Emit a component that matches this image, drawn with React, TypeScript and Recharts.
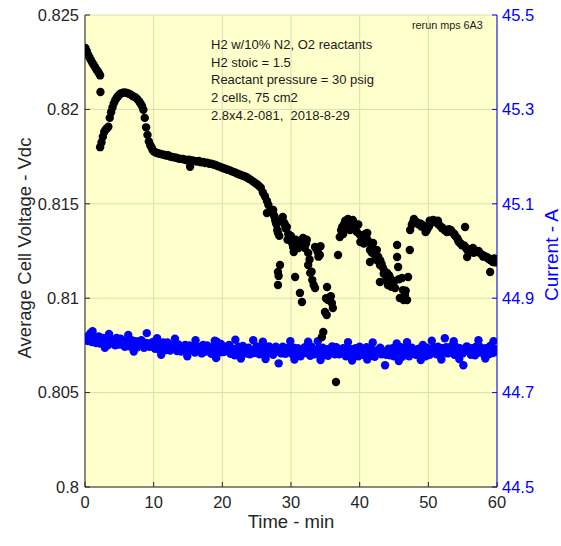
import React from 'react';
import { ScatterChart, Scatter, XAxis, YAxis, CartesianGrid } from 'recharts';

// [time (min), average cell voltage (Vdc)]
const voltage: [number, number][] = [
  [0.05, 0.82325], [0.25, 0.8231], [0.45, 0.8229], [0.65, 0.82275], [0.85, 0.82262], [1.05, 0.82248],
  [1.25, 0.82236], [1.45, 0.82225], [1.65, 0.82212], [1.85, 0.82202], [2.05, 0.8219], [2.2, 0.8218],
  [2.25, 0.82092],
  [2.2, 0.818], [2.4, 0.81825], [2.6, 0.81855], [2.8, 0.8188], [3.0, 0.81893], [3.2, 0.819], [3.4, 0.81908],
  [3.6, 0.81955], [3.8, 0.81985], [4.0, 0.8201], [4.2, 0.82032], [4.4, 0.82048], [4.6, 0.8206], [4.8, 0.8207],
  [5.0, 0.82078], [5.2, 0.82084], [5.5, 0.82088], [5.8, 0.8209], [6.1, 0.82087], [6.4, 0.82083], [6.7, 0.82078],
  [7.0, 0.8207], [7.3, 0.82065], [7.6, 0.82055], [7.9, 0.82042], [8.1, 0.8203], [8.3, 0.82018], [8.5, 0.81998],
  [8.7, 0.81955], [8.9, 0.81905], [9.1, 0.81865], [9.3, 0.8183], [9.5, 0.8181], [9.7, 0.81798], [9.85, 0.81785],
  [10.0, 0.81778], [10.3, 0.81772], [10.6, 0.81768], [10.9, 0.81765], [11.2, 0.81762], [11.5, 0.8176],
  [11.8, 0.81756], [12.1, 0.81757], [12.4, 0.8175], [12.7, 0.81748], [13.0, 0.81746], [13.3, 0.81744],
  [13.6, 0.8174], [13.9, 0.81738], [14.2, 0.81737], [14.5, 0.81735], [14.8, 0.81731], [15.1, 0.81733],
  [15.3, 0.81696], [15.4, 0.81728], [15.7, 0.8173], [16.0, 0.81726], [16.3, 0.81724], [16.6, 0.81727],
  [16.9, 0.8172], [17.2, 0.81722], [17.5, 0.81716], [17.8, 0.81718], [18.1, 0.81712], [18.4, 0.81713],
  [18.7, 0.81708], [19.0, 0.81706], [19.3, 0.817], [19.6, 0.81697], [19.9, 0.81692], [20.2, 0.81688],
  [20.5, 0.81684], [20.8, 0.8168], [21.1, 0.81677], [21.4, 0.81672], [21.7, 0.81668], [22.0, 0.81663],
  [22.3, 0.81658], [22.6, 0.81654], [22.9, 0.8165], [23.2, 0.81646], [23.5, 0.81642], [23.8, 0.81634],
  [24.1, 0.81628], [24.4, 0.8162], [24.7, 0.81612], [25.0, 0.81605], [25.3, 0.81596], [25.6, 0.81585],
  [25.9, 0.8156], [26.2, 0.8154], [26.5, 0.81515], [26.5, 0.81451], [26.7, 0.81495], [27.0, 0.8147],
  [27.2, 0.81458], [27.4, 0.81467], [27.5, 0.8144], [27.6, 0.81432], [27.7, 0.81414], [27.8, 0.814],
  [27.9, 0.8139], [28.0, 0.8136], [28.1, 0.81345], [28.1, 0.81139], [28.1, 0.8107], [28.2, 0.81118],
  [28.3, 0.8133], [28.4, 0.81176], [28.6, 0.8141], [28.8, 0.8143], [29.0, 0.814], [29.1, 0.8139],
  [29.2, 0.8137], [29.4, 0.81377], [29.5, 0.8131], [29.6, 0.8134], [29.85, 0.81308], [30.0, 0.8133],
  [30.1, 0.81295], [30.3, 0.81271], [30.4, 0.81245], [30.6, 0.81112], [30.7, 0.8131], [30.8, 0.8129],
  [31.0, 0.81265], [31.1, 0.813], [31.3, 0.81028], [31.5, 0.81295], [31.6, 0.8098], [31.75, 0.81319],
  [32.0, 0.81266], [32.2, 0.8129], [32.3, 0.8131], [32.5, 0.81176], [32.5, 0.8124], [32.7, 0.81205],
  [32.8, 0.81134], [33.0, 0.8114], [33.1, 0.81096], [33.3, 0.8107], [33.5, 0.81271], [33.5, 0.81054],
  [33.7, 0.8126], [33.9, 0.81245], [34.0, 0.8122], [34.2, 0.81229], [34.3, 0.81275], [34.5, 0.80794],
  [34.7, 0.80821], [34.95, 0.80927], [35.1, 0.81], [35.2, 0.80911], [35.25, 0.81059], [35.4, 0.8099],
  [35.6, 0.81], [35.8, 0.8101], [35.95, 0.80975], [36.1, 0.80948], [36.55, 0.80556], [36.85, 0.81229],
  [37.1, 0.81324], [37.3, 0.8136], [37.45, 0.81377], [37.6, 0.8134], [37.7, 0.8139], [37.9, 0.8141],
  [38.0, 0.8138], [38.15, 0.81398], [38.3, 0.8142], [38.4, 0.8137], [38.6, 0.81361], [38.8, 0.814],
  [39.0, 0.81414], [39.1, 0.8137], [39.2, 0.81385], [39.4, 0.8136], [39.5, 0.8139], [39.6, 0.8135],
  [39.8, 0.8139], [40.05, 0.81335], [40.1, 0.81298], [40.3, 0.8133], [40.5, 0.8131], [40.6, 0.8129],
  [40.8, 0.8134], [41.0, 0.8132], [41.1, 0.81345], [41.3, 0.813], [41.5, 0.81255], [41.5, 0.81192],
  [41.7, 0.8128], [41.8, 0.8124], [41.95, 0.81292], [42.2, 0.8125], [42.3, 0.8122], [42.5, 0.81255],
  [42.5, 0.81202], [42.7, 0.8122], [42.95, 0.81176], [42.95, 0.81086], [43.0, 0.812], [43.2, 0.8118],
  [43.4, 0.8116], [43.5, 0.8113], [43.7, 0.8114], [43.9, 0.811], [44.0, 0.81134], [44.1, 0.8107],
  [44.3, 0.8112], [44.4, 0.81107], [44.6, 0.8106], [44.7, 0.81096], [44.9, 0.8108], [45.0, 0.8109],
  [45.15, 0.81054], [45.45, 0.81282], [45.45, 0.81218], [45.6, 0.81165], [45.7, 0.811], [45.85, 0.81001],
  [46.15, 0.81107], [46.3, 0.81043], [46.4, 0.8099], [46.6, 0.8102], [46.7, 0.8104], [46.9, 0.8099],
  [47.05, 0.81112], [47.3, 0.81255], [47.35, 0.81361],
  [47.6, 0.8139], [47.8, 0.81403], [47.9, 0.8142], [48.0, 0.8141], [48.2, 0.814], [48.35, 0.81403],
  [48.6, 0.8139], [48.9, 0.81395], [49.0, 0.8138], [49.2, 0.81387], [49.5, 0.8137], [49.6, 0.8135],
  [49.8, 0.81361], [50.1, 0.8138], [50.2, 0.8141], [50.4, 0.814], [50.7, 0.81414], [50.9, 0.8141],
  [51.0, 0.81405], [51.25, 0.81398], [51.4, 0.8141], [51.5, 0.8139], [51.8, 0.8138], [52.0, 0.8137],
  [52.1, 0.81372], [52.4, 0.8136], [52.6, 0.8136], [52.7, 0.8135], [53.0, 0.81365], [53.15, 0.81361],
  [53.3, 0.8136], [53.4, 0.8135], [53.6, 0.81345], [53.8, 0.8134], [53.9, 0.8133], [54.2, 0.81319],
  [54.3, 0.8131], [54.4, 0.813], [54.6, 0.81292], [54.7, 0.8129], [54.9, 0.8128], [55.2, 0.8128],
  [55.35, 0.81377], [55.4, 0.8127], [55.65, 0.81255], [55.65, 0.81218], [55.9, 0.8125], [56.0, 0.8126],
  [56.2, 0.8126], [56.5, 0.81266], [56.6, 0.8124], [56.8, 0.8125], [57.1, 0.81245], [57.3, 0.8125],
  [57.5, 0.8124], [57.8, 0.8123], [58.0, 0.8122], [58.1, 0.81225], [58.5, 0.81218], [58.7, 0.8121],
  [58.8, 0.8121], [59.0, 0.81202], [59.0, 0.81139], [59.2, 0.812], [59.3, 0.812], [59.4, 0.81192],
  [59.6, 0.8121], [59.7, 0.8119], [59.9, 0.81192],
];

// [time (min), current (A)]
const current: [number, number][] = [
  [0.0, 44.818], [0.2, 44.814], [0.4, 44.809], [0.6, 44.821], [0.8, 44.826], [1.0, 44.807], [1.2, 44.812],
  [1.4, 44.817], [1.6, 44.805], [1.8, 44.811], [2.0, 44.819], [2.2, 44.804], [2.4, 44.81], [2.6, 44.816],
  [2.8, 44.803], [3.0, 44.809], [3.2, 44.815], [3.4, 44.801], [3.6, 44.808], [3.8, 44.813], [4.0, 44.812],
  [4.2, 44.806], [4.4, 44.8], [4.6, 44.816], [4.8, 44.809], [5.0, 44.802], [5.2, 44.814], [5.4, 44.81],
  [5.6, 44.801], [5.8, 44.797], [6.0, 44.807], [6.2, 44.812], [6.4, 44.798], [6.6, 44.804], [6.8, 44.811],
  [7.0, 44.799], [7.2, 44.803], [7.4, 44.809], [7.6, 44.796], [7.8, 44.802], [8.0, 44.808], [8.2, 44.811],
  [8.4, 44.8], [8.6, 44.795], [8.8, 44.805], [9.0, 44.826], [9.2, 44.804], [9.4, 44.797], [9.6, 44.8],
  [9.8, 44.806], [10.0, 44.808], [10.2, 44.793], [10.4, 44.797], [10.6, 44.802], [10.8, 44.791],
  [11.0, 44.798], [11.2, 44.803], [11.4, 44.806], [11.6, 44.796], [11.8, 44.79], [12.0, 44.806],
  [12.2, 44.799], [12.4, 44.789], [12.6, 44.795], [12.8, 44.8], [13.0, 44.803], [13.2, 44.793],
  [13.4, 44.788], [13.6, 44.802], [13.8, 44.797], [14.0, 44.787], [14.2, 44.792], [14.4, 44.796],
  [14.6, 44.801], [14.8, 44.79], [15.0, 44.786], [15.2, 44.8], [15.4, 44.795], [15.6, 44.791],
  [15.8, 44.799], [16.0, 44.785], [16.2, 44.789], [16.4, 44.797], [16.6, 44.796], [16.8, 44.792],
  [17.0, 44.783], [17.2, 44.801], [17.4, 44.793], [17.6, 44.787], [17.8, 44.8], [18.0, 44.795],
  [18.2, 44.788], [18.4, 44.782], [18.6, 44.794], [18.8, 44.799], [19.0, 44.79], [19.2, 44.808],
  [19.4, 44.796], [19.6, 44.785], [19.8, 44.803], [20.0, 44.796], [20.2, 44.786], [20.4, 44.79],
  [20.6, 44.794], [20.8, 44.799], [21.0, 44.801], [21.2, 44.782], [21.4, 44.789], [21.6, 44.793],
  [21.8, 44.779], [22.0, 44.788], [22.2, 44.794], [22.4, 44.797], [22.6, 44.79], [22.8, 44.785],
  [23.0, 44.799], [23.2, 44.794], [23.4, 44.783], [23.6, 44.789], [23.8, 44.795], [24.0, 44.781],
  [24.2, 44.79], [24.5, 44.811], [24.6, 44.784], [24.8, 44.792], [25.0, 44.798], [25.2, 44.787],
  [25.4, 44.781], [25.6, 44.796], [25.8, 44.79], [26.0, 44.783], [26.2, 44.795], [26.4, 44.791],
  [26.6, 44.784], [26.8, 44.798], [27.0, 44.792], [27.2, 44.786], [27.4, 44.78], [27.6, 44.793],
  [27.8, 44.797], [28.0, 44.787], [28.2, 44.762], [28.4, 44.789], [28.6, 44.783], [28.8, 44.797],
  [29.0, 44.794], [29.2, 44.782], [29.4, 44.786], [29.6, 44.79], [29.8, 44.797], [30.0, 44.786],
  [30.2, 44.781], [30.4, 44.795], [30.6, 44.789], [30.8, 44.78], [31.0, 44.794], [31.2, 44.791],
  [31.4, 44.777], [31.6, 44.787], [31.8, 44.789], [32.0, 44.796], [32.2, 44.784], [32.5, 44.808],
  [32.6, 44.793], [32.8, 44.778], [33.0, 44.797], [33.2, 44.79], [33.4, 44.781], [33.6, 44.784],
  [33.8, 44.789], [34.0, 44.793], [34.2, 44.779], [34.4, 44.786], [34.6, 44.795], [34.8, 44.779],
  [35.0, 44.785], [35.2, 44.792], [35.4, 44.778], [35.6, 44.788], [35.8, 44.793], [36.0, 44.798],
  [36.2, 44.786], [36.4, 44.781], [36.6, 44.796], [36.8, 44.79], [37.0, 44.781], [37.2, 44.785],
  [37.4, 44.79], [37.6, 44.794], [37.8, 44.786], [38.0, 44.777], [38.2, 44.795], [38.4, 44.788],
  [38.6, 44.78], [38.8, 44.792], [39.0, 44.789], [39.2, 44.782], [39.4, 44.794], [39.6, 44.79],
  [39.8, 44.777], [40.0, 44.797], [40.2, 44.79], [40.4, 44.78], [40.6, 44.784], [40.8, 44.787],
  [41.0, 44.796], [41.2, 44.793], [41.4, 44.785], [41.6, 44.778], [41.8, 44.791], [42.0, 44.789],
  [42.2, 44.776], [42.4, 44.784], [42.6, 44.789], [42.8, 44.792], [43.0, 44.795], [43.2, 44.781],
  [43.4, 44.787], [43.7, 44.758], [43.9, 44.78], [44.0, 44.788], [44.2, 44.793], [44.4, 44.779],
  [44.6, 44.785], [44.8, 44.794], [45.0, 44.777], [45.2, 44.785], [45.4, 44.804], [45.6, 44.788],
  [45.8, 44.79], [46.0, 44.796], [46.2, 44.776], [46.4, 44.783], [46.6, 44.787], [46.8, 44.791],
  [47.0, 44.795], [47.2, 44.777], [47.4, 44.782], [47.6, 44.795], [47.8, 44.789], [48.0, 44.786],
  [48.2, 44.78], [48.4, 44.791], [48.6, 44.793], [48.8, 44.779], [49.0, 44.786], [49.2, 44.801],
  [49.4, 44.789], [49.6, 44.777], [49.8, 44.795], [50.0, 44.79], [50.2, 44.78], [50.4, 44.784],
  [50.6, 44.791], [50.8, 44.796], [51.0, 44.787], [51.2, 44.781], [51.4, 44.797], [51.6, 44.789],
  [51.8, 44.778], [52.0, 44.794], [52.2, 44.79], [52.4, 44.815], [52.6, 44.796], [52.8, 44.783],
  [53.0, 44.785], [53.2, 44.791], [53.4, 44.799], [53.6, 44.786], [53.8, 44.78], [54.0, 44.797],
  [54.2, 44.789], [54.4, 44.779], [54.6, 44.794], [54.8, 44.792], [55.0, 44.783], [55.1, 44.758],
  [55.4, 44.788], [55.6, 44.798], [55.8, 44.795], [56.0, 44.786], [56.2, 44.78], [56.4, 44.794],
  [56.6, 44.791], [56.8, 44.779], [57.0, 44.798], [57.2, 44.791], [57.4, 44.785], [57.6, 44.796],
  [57.8, 44.793], [58.0, 44.785], [58.2, 44.778], [58.4, 44.794], [58.6, 44.789], [58.8, 44.781],
  [59.0, 44.799], [59.2, 44.795], [59.4, 44.784], [59.6, 44.789], [59.8, 44.792], [60.0, 44.787],
  // edge points of the band
  [1.1, 44.83], [3.5, 44.824], [6.3, 44.822], [10.5, 44.815], [13.1, 44.814], [16.1, 44.811],
  [18.9, 44.81], [21.9, 44.812], [25.9, 44.808], [29.9, 44.809], [33.9, 44.809], [38.3, 44.807],
  [41.9, 44.806], [46.9, 44.807], [50.5, 44.81], [53.7, 44.809], [57.3, 44.811], [59.5, 44.809],
  [2.9, 44.795], [7.1, 44.787], [11.1, 44.78], [14.9, 44.777], [19.1, 44.773], [22.7, 44.772],
  [26.3, 44.771], [30.5, 44.77], [34.3, 44.769], [38.9, 44.768], [41.1, 44.77], [45.7, 44.767],
  [48.9, 44.769], [51.9, 44.77], [54.5, 44.771], [58.3, 44.772],
];

const timeTicks = [0, 10, 20, 30, 40, 50, 60];
const voltTicks = [0.8, 0.805, 0.81, 0.815, 0.82, 0.825];
const currentTicks = [44.5, 44.7, 44.9, 45.1, 45.3, 45.5];

const notes = [
  'H2 w/10% N2, O2 reactants',
  'H2 stoic = 1.5',
  'Reactant pressure = 30 psig',
  '2 cells, 75 cm2',
  '2.8x4.2-081,  2018-8-29',
];

const FONT = "'Liberation Sans', Arial, Helvetica, sans-serif";
const DARK = '#262626';
const BLUE = '#0000ff';

const voltData = voltage.map(([t, v]) => ({ t, v }));
const currentData = current.map(([t, c]) => ({ t, c }));

const dot = (color: string) => (props: any) =>
  <circle cx={props.cx} cy={props.cy} r={4.2} fill={color} />;

export default function App() {
  return (
    <div style={{ position: 'absolute', left: 0, top: 0, width: 561, height: 546, background: '#fff', fontFamily: FONT }}>
      <ScatterChart width={561} height={546} margin={{ top: 15, right: 0, bottom: 0, left: 0 }}>
        <CartesianGrid
          xAxisId="bottom"
          yAxisId="left"
          fill="#ffffcc"
          fillOpacity={1}
          stroke="#dcdcb4"
          horizontalValues={voltTicks}
          verticalValues={timeTicks}
        />
        <XAxis
          xAxisId="bottom"
          dataKey="t"
          type="number"
          domain={[0, 60]}
          ticks={timeTicks}
          allowDataOverflow
          height={59}
          stroke={DARK}
          tickSize={-5}
          tickMargin={14}
          tick={{ fill: DARK, fontSize: 16.5, fontFamily: FONT }}
        />
        <XAxis
          xAxisId="top"
          orientation="top"
          dataKey="t"
          type="number"
          domain={[0, 60]}
          ticks={timeTicks}
          height={0}
          stroke={DARK}
          tickSize={-5}
          tickFormatter={() => ''}
        />
        <YAxis
          yAxisId="left"
          type="number"
          domain={[0.8, 0.825]}
          ticks={voltTicks}
          allowDataOverflow
          width={85}
          stroke={DARK}
          tickSize={-5}
          tickMargin={11}
          tickFormatter={(v: number) => String(Number(v.toFixed(3)))}
          tick={{ fill: DARK, fontSize: 16.5, fontFamily: FONT }}
        />
        <YAxis
          yAxisId="right"
          orientation="right"
          type="number"
          domain={[44.5, 45.5]}
          ticks={currentTicks}
          allowDataOverflow
          width={64}
          stroke={BLUE}
          tickSize={-5}
          tickMargin={10}
          tickFormatter={(v: number) => v.toFixed(1)}
          tick={{ fill: BLUE, fontSize: 16.5, fontFamily: FONT }}
        />
        <Scatter
          data={currentData}
          xAxisId="bottom"
          yAxisId="right"
          dataKey="c"
          shape={dot(BLUE)}
          isAnimationActive={false}
        />
        <Scatter
          data={voltData}
          xAxisId="bottom"
          yAxisId="left"
          dataKey="v"
          shape={dot('#000')}
          isAnimationActive={false}
        />
      </ScatterChart>

      {/* annotation block */}
      <div style={{ position: 'absolute', left: 211, top: 36, fontSize: 13, lineHeight: '17.7px', color: '#1a1a1a', whiteSpace: 'pre' }}>
        {notes.map((n) => <div key={n}>{n}</div>)}
      </div>
      <div style={{ position: 'absolute', left: 412, top: 19, fontSize: 10.8, color: '#1a1a1a' }}>rerun mps 6A3</div>

      {/* axis titles */}
      <div style={{ position: 'absolute', left: 291, top: 522, transform: 'translate(-50%, -50%)', fontSize: 18.5, color: DARK, whiteSpace: 'nowrap' }}>
        Time - min
      </div>
      <div style={{ position: 'absolute', left: 25, top: 248, transform: 'translate(-50%, -50%) rotate(-90deg)', fontSize: 18.5, color: DARK, whiteSpace: 'nowrap' }}>
        Average Cell Voltage - Vdc
      </div>
      <div style={{ position: 'absolute', left: 552, top: 255, transform: 'translate(-50%, -50%) rotate(-90deg)', fontSize: 19, color: BLUE, whiteSpace: 'nowrap' }}>
        Current - A
      </div>
    </div>
  );
}
